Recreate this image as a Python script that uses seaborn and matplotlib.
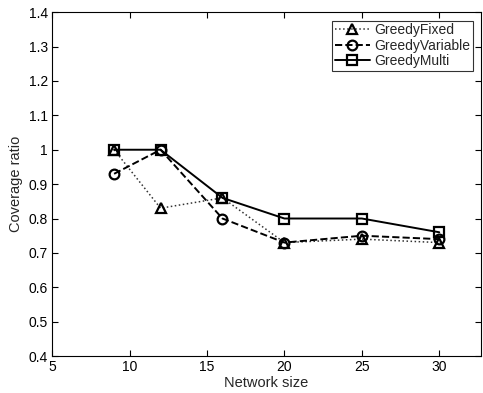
import matplotlib
matplotlib.use("Agg")
import matplotlib.pyplot as plt
import seaborn as sns
import pandas as pd

network_size = [9, 12, 16, 20, 25, 30]
greedy_fixed = [1.00, 0.83, 0.86, 0.73, 0.74, 0.73]
greedy_variable = [0.93, 1.00, 0.80, 0.73, 0.75, 0.74]
greedy_multi = [1.00, 1.00, 0.86, 0.80, 0.80, 0.76]
series_names = ["GreedyFixed", "GreedyVariable", "GreedyMulti"]

sns.set_style("ticks")
plt.rcParams["font.family"] = ["Liberation Sans", "DejaVu Sans"]

rows = []
for name, vals in zip(series_names, [greedy_fixed, greedy_variable, greedy_multi]):
    for x, y in zip(network_size, vals):
        rows.append({"Network size": x, "Coverage ratio": y, "series": name})
df = pd.DataFrame(rows)

fig = plt.figure(figsize=(4.83, 3.93), dpi=100)
ax = fig.add_axes([0.108, 0.094, 0.888, 0.875])

styles = {
    "GreedyFixed": dict(ls=":", marker="^", color="#333333", lw=1.1),
    "GreedyVariable": dict(ls="--", marker="o", color="black", lw=1.4),
    "GreedyMulti": dict(ls="-", marker="s", color="black", lw=1.4),
}
for name in series_names:
    sub = df[df["series"] == name]
    st = styles[name]
    sns.lineplot(data=sub, x="Network size", y="Coverage ratio", ax=ax,
                 color=st["color"], linestyle=st["ls"],
                 marker=st["marker"], markersize=7,
                 markerfacecolor="none", markeredgecolor="black",
                 markeredgewidth=1.6, linewidth=st["lw"], label=name)

ax.set_xlim(5, 32.7)
ax.set_ylim(0.4, 1.4)
ax.set_xticks([5, 10, 15, 20, 25, 30])
ax.set_yticks([0.4, 0.5, 0.6, 0.7, 0.8, 0.9, 1.0, 1.1, 1.2, 1.3, 1.4])
ax.set_yticklabels(["0.4", "0.5", "0.6", "0.7", "0.8", "0.9", "1", "1.1", "1.2", "1.3", "1.4"])
ax.tick_params(direction="in", length=4, labelsize=10, top=True, right=True, colors="black", pad=3)
for s in ax.spines.values():
    s.set_visible(True)
    s.set_color("black")
    s.set_linewidth(0.8)
ax.set_xlabel("Network size", fontsize=10.5, labelpad=1)
ax.set_ylabel("Coverage ratio", fontsize=10.5, labelpad=4)
leg = ax.legend(loc="upper right", fontsize=10, frameon=True, fancybox=False,
                edgecolor="black", handlelength=2.5, borderpad=0.2, labelspacing=0.1,
                handletextpad=0.3, borderaxespad=0.6)
leg.get_frame().set_linewidth(0.8)

fig.savefig("out.png", dpi=100)
